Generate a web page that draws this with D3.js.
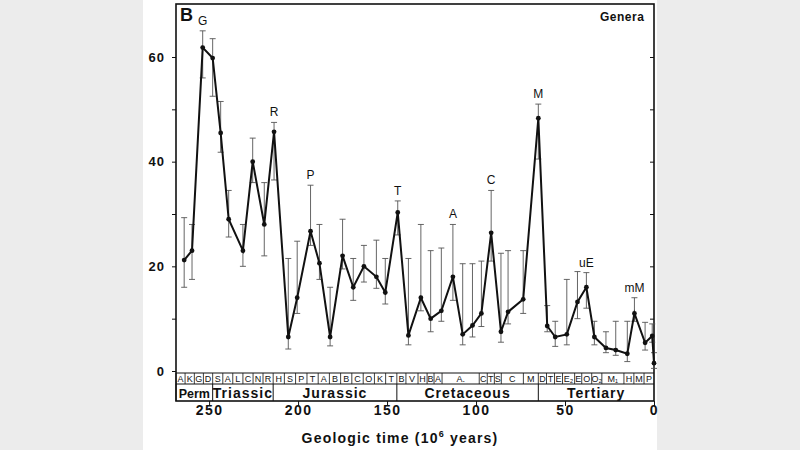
<!DOCTYPE html>
<html><head><meta charset="utf-8">
<script src="https://cdn.jsdelivr.net/npm/d3@7"></script>
<style>body{margin:0;background:#ececec;}svg{display:block;font-family:Arial,"Liberation Sans",sans-serif;}</style>
</head><body><svg id="c" width="800" height="450"></svg>
<script>
const ages=[264,259.6,253.6,248,243.5,239,231,225.5,219,213.5,205.5,200.5,193,188,182,175,169,163,156,151,144,138,131,125.5,119.5,113,107.5,102,97,91.5,86,82,73.5,65,60,55.5,49,43,38,33.5,27,21.5,15,11,5,1,0];
const genera=[21.2,23,61.8,59.8,45.5,29,23,40,28,45.7,6.5,14,26.7,20.6,6.5,22,16,20,18,15,30.3,6.8,14,10,11.5,18,7,8.7,11,26.4,7.5,11.3,13.7,48.3,8.6,6.5,7,13.2,16,6.5,4.4,4,3.3,11,5.4,6.7,1.5];
const upper=[29.3,28,65,63.5,51.5,34.5,28,44.5,36,47.5,21.5,24.8,35.5,28,16,29,21.5,24,25,21.5,32.5,21.5,28,23,23.5,28,20.5,20.5,21,34.5,22.5,23,23,51,12.5,9.5,17.5,19,18.8,9.5,7.5,9.5,9.5,14,9.3,9,3.5];
const lower=[16,17.5,56,52.5,41.8,25.6,20,36,22,36.5,4.2,11,24,17.5,4.8,19.5,13.5,17,15.8,12.8,26,5,11.5,7.5,9.5,13.5,5,6.5,8.5,21,5.5,9,11,40.5,7.5,4.7,5,10,12,5,3.5,3,1.8,9.5,4,5.5,0.5];
const peakNames=["G","R","P","T","A","C","M","uE","mM"];
const peakAges=[253.6,213.5,193,144,113,91.5,65,38,11];
const peakVals=[65,47.5,35.5,32.5,28,34.5,51,18.8,14];
const periodNames=["Perm","Triassic","Jurassic","Cretaceous","Tertiary"];
const periodBounds=[268.6,248,214,144.5,65,0];
const stageNames=["A","K","G","D","S","A","L","C","N","R","H","S","P","T","A","B","B","C","O","K","T","B","V","H","B","A","A.","C","T","S","C","M","D","T","E","E₂","E","O","O₂","M₁","H","M","P"];
const stageBounds=[268.6,263.5,258.3,253.2,248,242.3,236.7,231,225.3,219.7,214,207.7,201.4,195,188.7,182.4,176.1,169.8,163.4,157.1,150.8,144.5,139.4,132.6,127.5,123.6,119.1,98.2,93.7,89.7,85.8,73.4,65,60.4,55.9,51.4,44.6,40.6,35,29.3,16.9,11.3,5.6,0];
const xTicks=[250,200,150,100,50,0];
const yTicks=[0,20,40,60];

const svg=d3.select("#c");
svg.append("rect").attr("x",143).attr("y",0).attr("width",514).attr("height",450).attr("fill","#fff");
const L=176,R=654,T=4,B0=371,SB=384,PB=401;
const x=d3.scaleLinear().domain([268.6,0]).range([L,R]);
const y=d3.scaleLinear().domain([0,60]).range([B0,57]);
const ink="#111";
svg.append("rect").attr("x",L).attr("y",T).attr("width",R-L).attr("height",PB-T).attr("fill","none").attr("stroke",ink).attr("stroke-width",1.6);
svg.append("line").attr("x1",L).attr("x2",R).attr("y1",B0+2).attr("y2",B0+2).attr("stroke",ink);
svg.append("line").attr("x1",L).attr("x2",R).attr("y1",SB).attr("y2",SB).attr("stroke",ink);
const ya=svg.append("g").attr("transform",`translate(${L},0)`).call(d3.axisLeft(y).tickValues(d3.range(0,70,10)).tickSize(4).tickFormat(d=>yTicks.includes(d)?d:""));
ya.select(".domain").remove();
ya.selectAll("text").attr("font-size",13).attr("font-weight","bold").attr("letter-spacing",1).attr("fill",ink).attr("dx",-4);
ya.selectAll("line").attr("stroke",ink);
const ya2=svg.append("g").attr("transform",`translate(${R},0)`).call(d3.axisLeft(y).tickValues(d3.range(10,70,10)).tickSize(4).tickFormat(""));
ya2.select(".domain").remove();ya2.selectAll("line").attr("stroke",ink);
const xa=svg.append("g").attr("transform",`translate(0,${PB})`).call(d3.axisBottom(x).tickValues(xTicks).tickSize(5).tickFormat(d3.format("d")));
xa.select(".domain").remove();
xa.selectAll("text").attr("font-size",14).attr("font-weight","bold").attr("fill",ink).attr("dy",6).attr("letter-spacing",1.5);
xa.selectAll("line").attr("stroke",ink);
svg.append("text").attr("x",400).attr("y",443).attr("text-anchor","middle").attr("font-size",14).attr("font-weight","bold").attr("letter-spacing",1.2).attr("fill",ink).html('Geologic time  (10<tspan dy="-6" font-size="9">6</tspan><tspan dy="6"> years)</tspan>');
stageNames.forEach((s,i)=>{
  const a=x(stageBounds[i]),b=x(stageBounds[i+1]);
  svg.append("line").attr("x1",a).attr("x2",a).attr("y1",B0+2).attr("y2",SB).attr("stroke",ink).attr("stroke-width",0.8);
  svg.append("text").attr("x",(a+b)/2).attr("y",SB-2.5).attr("text-anchor","middle").attr("font-size",9).attr("fill",ink).text(s);
});
periodNames.forEach((p,i)=>{
  const a=x(periodBounds[i]),b=x(periodBounds[i+1]);
  svg.append("line").attr("x1",a).attr("x2",a).attr("y1",SB).attr("y2",PB).attr("stroke",ink);
  const t=svg.append("text").attr("x",(a+b)/2).attr("y",PB-3).attr("text-anchor","middle").attr("font-size",i==0?12.5:14).attr("font-weight","bold").attr("letter-spacing",i==0?0:1).attr("fill",ink).text(p);
});
ages.forEach((a,i)=>{
  const g=svg.append("g").attr("stroke","#555").attr("stroke-width",0.9);
  g.append("line").attr("x1",x(a)).attr("x2",x(a)).attr("y1",y(upper[i])).attr("y2",y(lower[i]));
  [upper[i],lower[i]].forEach(v=>g.append("line").attr("x1",x(a)-3).attr("x2",x(a)+3).attr("y1",y(v)).attr("y2",y(v)));
});
svg.append("path").datum(ages.map((a,i)=>[a,genera[i]])).attr("fill","none").attr("stroke",ink).attr("stroke-width",2)
  .attr("d",d3.line().x(d=>x(d[0])).y(d=>y(d[1])));
svg.selectAll("circle.p").data(ages).join("circle").attr("cx",d=>x(d)).attr("cy",(d,i)=>y(genera[i])).attr("r",2.4).attr("fill",ink);
peakNames.forEach((n,i)=>svg.append("text").attr("x",x(peakAges[i])).attr("y",y(peakVals[i])-6).attr("text-anchor","middle").attr("font-size",12).attr("fill",ink).text(n));
svg.append("text").attr("x",L+4).attr("y",21).attr("font-size",18).attr("font-weight","bold").attr("fill",ink).text("B");
svg.append("text").attr("x",600).attr("y",21).attr("font-size",12).attr("font-weight","bold").attr("letter-spacing",0.5).attr("fill",ink).text("Genera");
</script></body></html>
